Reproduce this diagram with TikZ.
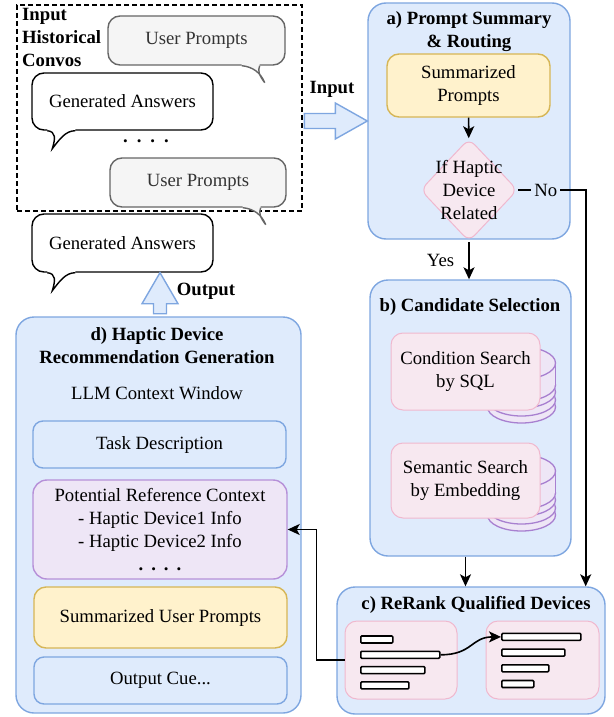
\documentclass[tikz,border=0pt]{standalone}
\usepackage{fontspec}
\setmainfont{Liberation Serif}
\usetikzlibrary{positioning, arrows.meta, shapes.geometric}
\definecolor{stageblue}{HTML}{DFEBFC}
\definecolor{lineblue}{HTML}{7EA6E0}
\definecolor{boxyellow}{HTML}{FFF2CC}
\definecolor{lineyellow}{HTML}{D6B656}
\definecolor{boxpink}{HTML}{F7E8F0}
\definecolor{linepink}{HTML}{F0B8CE}
\definecolor{boxpurple}{HTML}{EEE6F6}
\definecolor{linepurple}{HTML}{B690D8}
\definecolor{linedisk}{HTML}{A880D0}
\definecolor{boxgray}{HTML}{F5F5F5}
\definecolor{linegray}{HTML}{666666}
\definecolor{textgray}{HTML}{333333}
\newcommand{\diagfont}{\fontsize{18.7}{23}\selectfont}
\tikzset{
    x=1pt, y=-1pt, % one unit is one pixel of the sketch, y runs down
    every node/.style={font=\diagfont, align=center, inner sep=0pt}, % same text size everywhere
    >={Stealth[length=12pt, width=11pt, inset=3pt]}, % filled arrow heads
    arr/.style={->, line width=1.6pt}, % black connectors
    stage/.style={draw=lineblue, fill=stageblue, line width=1.4pt, rounded corners=18pt}, % the four big panels
    title/.style={font=\diagfont\bfseries}, % panel headings
    bluebox/.style={draw=lineblue, fill=stageblue, line width=1.4pt, rounded corners=10pt},
    yellowbox/.style={draw=lineyellow, fill=boxyellow, line width=1.4pt, rounded corners=12pt},
    pinkbox/.style={draw=linepink, fill=boxpink, line width=1pt, rounded corners=12pt},
    purplebox/.style={draw=linepurple, fill=boxpurple, line width=1.4pt, rounded corners=14pt},
    bubble/.style={draw=black, fill=white, line width=1.4pt, rounded corners=12pt}, % speech bubbles
    graybubble/.style={bubble, draw=linegray, fill=boxgray, text=textgray},
    bar/.style={draw=black, fill=white, line width=1.6pt, rounded corners=1pt, minimum height=7pt, anchor=west}, % ranked items
    disk/.style={draw=linedisk, fill=boxpurple, line width=1.3pt}, % database stacks
    blockarrow/.style={draw=lineblue, fill=stageblue, line width=1.4pt, line join=miter},
}

\begin{document}
\begin{tikzpicture}
    \useasboundingbox (0,0) rectangle (613,717);
    \node[stage, minimum width=202, minimum height=236] (pa) at (469,121) {};
    \node[stage, minimum width=201, minimum height=276] (pb) at (470.5,418) {};
    \node[stage, minimum width=268, minimum height=127] (pc) at (471,650.5) {};
    \node[stage, minimum width=285, minimum height=396] (pd) at (158.5,515) {};
    \node[draw, dash pattern=on 5pt off 3pt, line width=1.4pt, minimum width=285, minimum height=206] (hist) at (159.5,108) {};

    \node[title] (ta) at (469,32) {a) Prompt Summary\\\& Routing};
    \node[title] (tb) at (470,307) {b) Candidate Selection};
    \node[title] (tc) at (476,605) {c) ReRank Qualified Devices};
    \node[title] (td) at (157,345.5) {d) Haptic Device\\Recommendation Generation};
    \node (llm) at (157,393) {LLM Context Window};
    \node[title, align=left, anchor=north west] (thist) at (22,8.5) {Input\\Historical\\Convos};

    \node[graybubble, minimum width=177, minimum height=49] (up1) at (196.5,40.5) {User Prompts};
    \node[bubble, minimum width=181, minimum height=57] (ga1) at (122.5,101.5) {Generated Answers};
    \node (dots1) at (146,141) {\textbf{.}\hspace{9pt}\textbf{.}\hspace{9pt}\textbf{.}\hspace{9pt}\textbf{.}};
    \node[graybubble, minimum width=176, minimum height=49] (up2) at (198,182.5) {User Prompts};
    \node[bubble, minimum width=181, minimum height=58] (ga2) at (122.5,243) {Generated Answers};

    \foreach \b in {up1,up2} {
        \fill[boxgray] ([shift={(-44,-2)}]\b.south east) -- ([shift={(-44,0)}]\b.south east)
            .. controls +(11,1) and +(-4,-10) .. ([shift={(-21,17)}]\b.south east)
            .. controls +(-6,-8) and +(-2,5) .. ([shift={(-26,0)}]\b.south east) -- ([shift={(-26,-2)}]\b.south east) -- cycle;
        \draw[linegray, line width=1.4pt] ([shift={(-44,0)}]\b.south east)
            .. controls +(11,1) and +(-4,-10) .. ([shift={(-21,17)}]\b.south east)
            .. controls +(-6,-8) and +(-2,5) .. ([shift={(-26,0)}]\b.south east);
    }
    \foreach \b in {ga1,ga2} {
        \fill[white] ([shift={(16,-2)}]\b.south west) -- ([shift={(16,0)}]\b.south west)
            .. controls +(9,1) and +(3,-10) .. ([shift={(21,18)}]\b.south west)
            .. controls +(7,-9) and +(-10,0) .. ([shift={(44,0)}]\b.south west) -- ([shift={(44,-2)}]\b.south west) -- cycle;
        \draw[line width=1.4pt] ([shift={(16,0)}]\b.south west)
            .. controls +(9,1) and +(3,-10) .. ([shift={(21,18)}]\b.south west)
            .. controls +(7,-9) and +(-10,0) .. ([shift={(44,0)}]\b.south west);
    }

    \draw[blockarrow] (pa.west) -- ++(-32,-18) -- ++(0,10.5) -- ++(-31,0) -- ++(0,15) -- ++(31,0) -- ++(0,10.5) -- cycle;
    \draw[blockarrow] ([xshift=37.5pt]ga2.south) -- ++(18,31) -- ++(-11.5,0) -- ++(0,10) -- ++(-13,0) -- ++(0,-10) -- ++(-11.5,0) -- cycle;
    \node[title] (inlbl) at (332,89) {Input};
    \node[title] (outlbl) at (206,291) {Output};

    \node[yellowbox, minimum width=163, minimum height=63] (sp) at (468.5,85.5) {Summarized\\Prompts};
    \node[diamond, draw=linepink, fill=boxpink, line width=1pt, rounded corners=8pt, minimum width=97, minimum height=103] (dia) at (469,190) {};
    \node (diatxt) at (dia.center) {If Haptic\\Device\\Related};

    \foreach \y in {363,471} {
        \foreach \d in {44,37,29,22}
            \draw[disk] (521.5,\y+\d) ellipse [x radius=34, y radius=16];
        \fill[boxpurple] (487.5,\y) rectangle (555.5,\y+22);
        \draw[disk] (487.5,\y) -- (487.5,\y+22) (555.5,\y) -- (555.5,\y+22);
        \draw[disk] (521.5,\y) ellipse [x radius=34, y radius=16];
    }
    \node[pinkbox, minimum width=149, minimum height=77] (cs) at (465.5,371.5) {Condition Search\\by SQL};
    \node[pinkbox, minimum width=149, minimum height=75] (ss) at (465.5,480.5) {Semantic Search\\by Embedding};

    \node[pinkbox, minimum width=112, minimum height=78] (rl) at (401,660) {};
    \node[pinkbox, minimum width=113, minimum height=78] (rr) at (542.5,660) {};
    \foreach \len [count=\i] in {32,79,64,48}
        \node[bar, minimum width=\len] (l\i) at (360,624.2+15.3*\i) {};
    \foreach \len [count=\i] in {79,63,47,32}
        \node[bar, minimum width=\len] (r\i) at (501,621.2+15.7*\i) {};

    \node[bluebox, minimum width=253, minimum height=47] (task) at (159.5,444.5) {Task Description};
    \node[purplebox, minimum width=254, minimum height=99] (prc) at (160,529.5) {Potential Reference Context\\- Haptic Device1 Info\\- Haptic Device2 Info\\\textbf{.}\hspace{8pt}\textbf{.}\hspace{8pt}\textbf{.}\hspace{8pt}\textbf{.}};
    \node[yellowbox, minimum width=253, minimum height=61] (sump) at (160.5,617.5) {Summarized User Prompts};
    \node[bluebox, minimum width=253, minimum height=47] (cue) at (160.5,680.5) {Output Cue...};

    \coordinate (noturn) at ([xshift=-20pt]pc.north east);
    \draw[arr] (sp) -- (dia);
    \draw[arr] (dia.south) -- node[left=14pt] (yes) {Yes} (dia.south |- pb.north);
    \draw[arr] (dia.east) -- node[pos=0.41, fill=stageblue, inner sep=3pt] (no) {No} (dia.east -| noturn) -- (noturn);
    \draw[arr] ([xshift=-5pt]pb.south) -- ([xshift=-5pt]pb.south |- pc.north);
    \draw[arr] (l2.east) .. controls +(32,0) and +(-30,0) .. (r1.west);
    \draw[arr] (rl.west) -- ++(-28,0) |- (prc.east);
\end{tikzpicture}
\end{document}
